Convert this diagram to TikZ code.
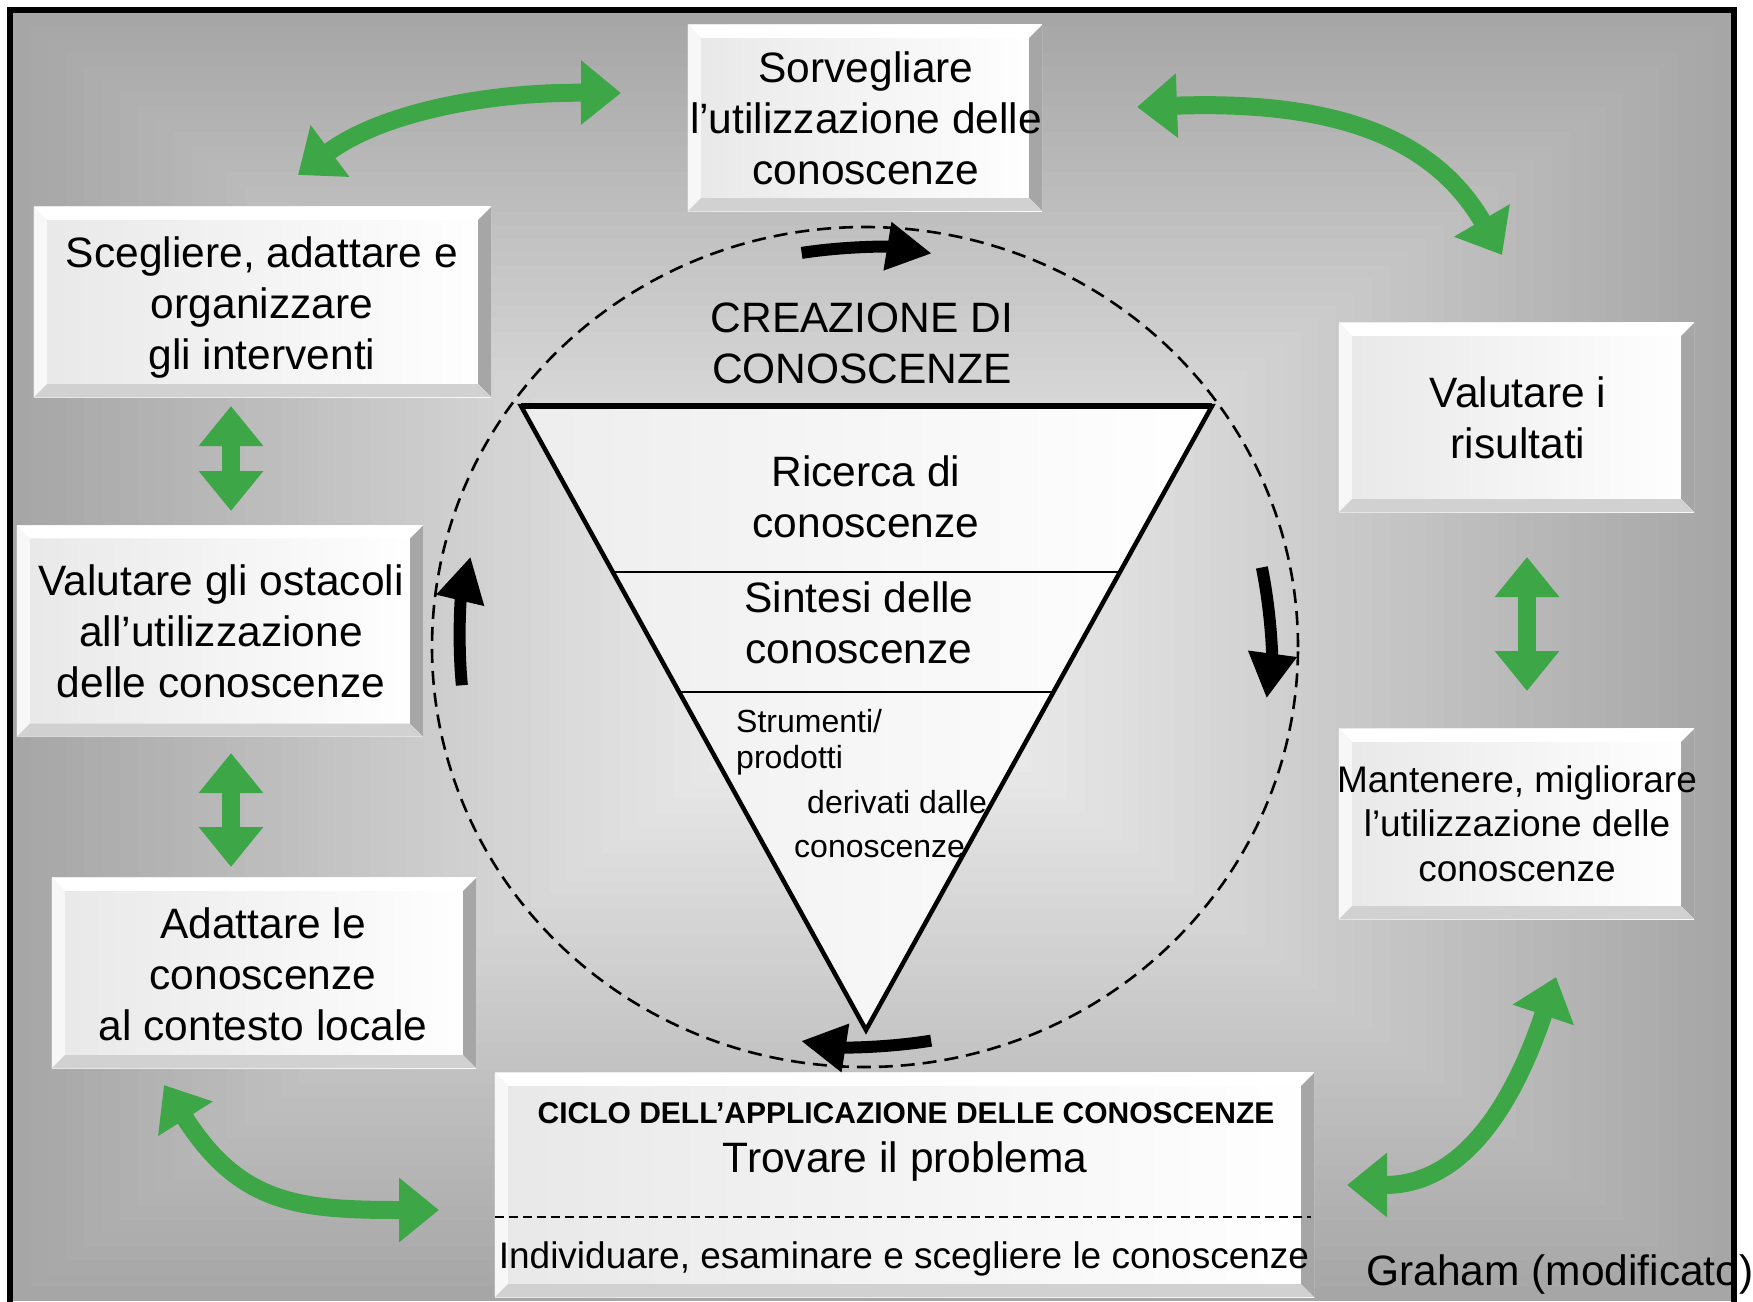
\documentclass[tikz,border=0pt]{standalone}
\usepackage{fontspec}
\setmainfont{Liberation Sans}
\usetikzlibrary{arrows.meta,calc}
\pgfdeclarelayer{bg}
\pgfsetlayers{bg,main}
\definecolor{arrowgreen}{RGB}{61,166,70}
\tikzset{
  boxnode/.style={inner sep=0pt, draw=none},
  bigtext/.style={font=\fontsize{42.5}{51}\selectfont, align=center, inner sep=0pt},
  midtext/.style={font=\fontsize{37}{44.5}\selectfont, align=center, inner sep=0pt},
  smalltext/.style={font=\fontsize{32}{38}\selectfont, inner sep=0pt, anchor=base west},
  garrow/.style={draw=arrowgreen, line width=18pt, {Triangle[length=40pt,width=62pt]}-{Triangle[length=40pt,width=62pt]}},
  barrow/.style={draw=black, line width=12pt, -{Triangle[length=45pt,width=46pt]}},
}
\newcommand\bevelbox[1]{%
\begin{pgfonlayer}{bg}
\fill[left color=black!9, right color=white] (#1.south west) rectangle (#1.north east);
\fill[white] (#1.north west) -- (#1.north east) -- ([shift={(-13pt,-13pt)}]#1.north east) -- ([shift={(13pt,-13pt)}]#1.north west) -- cycle;
\fill[black!3] (#1.north west) -- ([shift={(13pt,-13pt)}]#1.north west) -- ([shift={(13pt,13pt)}]#1.south west) -- (#1.south west) -- cycle;
\fill[black!35] (#1.north east) -- (#1.south east) -- ([shift={(-13pt,13pt)}]#1.south east) -- ([shift={(-13pt,-13pt)}]#1.north east) -- cycle;
\fill[black!18] (#1.south west) -- (#1.south east) -- ([shift={(-13pt,13pt)}]#1.south east) -- ([shift={(13pt,13pt)}]#1.south west) -- cycle;
\end{pgfonlayer}}
\begin{document}
\begin{tikzpicture}[x=1pt,y=-1pt]
\useasboundingbox (0,0) rectangle (1753,1301);
\begin{pgfonlayer}{bg}
\fill[white] (0,0) rectangle (1753,1301);
\foreach \i in {0,...,47}{
  \pgfmathsetmacro\t{\i/48}
  \pgfmathsetmacro\pc{35-32*\t}
  \fill[black!\pc] ({870-857*(1-\t)},{650-637*(1-\t)}) rectangle ({870+861*(1-\t)},{650+651*(1-\t)});
}
\end{pgfonlayer}

% boxes
\node[boxnode, minimum width=354pt, minimum height=186pt] (sorv) at (865,118) {};
\node[boxnode, minimum width=457pt, minimum height=190pt] (sceg) at (262.5,302) {};
\node[boxnode, minimum width=406pt, minimum height=211pt] (osta) at (220,631) {};
\node[boxnode, minimum width=424pt, minimum height=190pt] (adat) at (264,973) {};
\node[boxnode, minimum width=355pt, minimum height=189pt] (valu) at (1516.5,417.5) {};
\node[boxnode, minimum width=355pt, minimum height=190pt] (mant) at (1516.5,824) {};
\node[boxnode, minimum width=819pt, minimum height=224pt] (ciclo) at (904.5,1185) {};
\bevelbox{sorv}\bevelbox{sceg}\bevelbox{osta}\bevelbox{adat}\bevelbox{valu}\bevelbox{mant}\bevelbox{ciclo}

% box texts
\node[bigtext] (sorvt) at (866,123) {\strut Sorvegliare\\ \strut l’utilizzazione delle\\ \strut conoscenze};
\node[bigtext] (scegt) at (262,308) {\strut Scegliere, adattare e\\ \strut organizzare\\ \strut gli interventi};
\node[bigtext] (ostat) at (221,636) {\strut Valutare gli ostacoli\\ \strut all’utilizzazione\\ \strut delle conoscenze};
\node[bigtext] (adatt) at (263,979) {\strut Adattare le\\ \strut conoscenze\\ \strut al contesto locale};
\node[bigtext] (valut) at (1518,423) {\strut Valutare i\\ \strut risultati};
\node[midtext] (mantt) at (1517,828) {\strut Mantenere, migliorare\\ \strut l’utilizzazione delle\\ \strut conoscenze};
\node[font=\bfseries\fontsize{30}{36}\selectfont, inner sep=0pt, anchor=base] (ciclot) at (906,1123) {CICLO DELL’APPLICAZIONE DELLE CONOSCENZE};
\node[bigtext, anchor=base] (trov) at (905,1172) {Trovare il problema};
\node[midtext, anchor=base] (indiv) at (904,1268) {Individuare, esaminare e scegliere le conoscenze};
\draw[line width=1.5pt, dash pattern=on 9pt off 5pt] ([yshift=-32pt]ciclo.west) -- ([xshift=-3pt,yshift=-32pt]ciclo.east);

% dashed circle
\draw[line width=2.6pt, dash pattern=on 14pt off 8pt] (865,647) ellipse [x radius=433pt, y radius=420pt];

% triangle
\coordinate (tl) at (521,406);
\coordinate (tr) at (1212,406);
\coordinate (ap) at (866,1030);
\draw[line width=4.5pt, left color=black!7, right color=white] (tl) -- (tr) -- (ap) -- cycle;
\draw[line width=6pt] (tl) -- (tr);
\draw[line width=1.8pt] ($(tl)!0.266!(ap)$) -- ($(tr)!0.266!(ap)$);
\draw[line width=1.8pt] ($(tl)!0.458!(ap)$) -- ($(tr)!0.458!(ap)$);

\node[bigtext] (creat) at (862,348) {\strut CREAZIONE DI\\ \strut CONOSCENZE};
\node[bigtext] (ricet) at (866,502) {\strut Ricerca di\\ \strut conoscenze};
\node[bigtext] (sintt) at (859,628) {\strut Sintesi delle\\ \strut conoscenze};
\node[smalltext] (strum) at (736,732) {Strumenti/};
\node[smalltext] (prod) at (736,768) {prodotti};
\node[smalltext] (deriv) at (807,813) {derivati dalle};
\node[smalltext] (conos) at (794,857) {conoscenze};

% black cycle arrows
\coordinate (ctop) at ({865+405*cos(99)},{647-399*sin(99)});
\coordinate (cright) at ({865+405*cos(11.5)},{647-399*sin(11.5)});
\coordinate (cbot) at ({865+405*cos(279.4)},{647-399*sin(279.4)});
\coordinate (cleft) at ({865+405*cos(185.5)},{647-399*sin(185.5)});
\draw[barrow] (ctop) arc[start angle=99, end angle=80.5, x radius=405pt, y radius=399pt];
\draw[barrow] (cright) arc[start angle=11.5, end angle=-7.4, x radius=405pt, y radius=399pt];
\draw[barrow] (cbot) arc[start angle=279.4, end angle=260.9, x radius=405pt, y radius=399pt];
\draw[barrow] (cleft) arc[start angle=185.5, end angle=166.9, x radius=405pt, y radius=399pt];

% green arrows
\coordinate (g1a) at (298,175); \coordinate (g1b) at (621,93);
\coordinate (g2a) at (1137,107); \coordinate (g2b) at (1502,255);
\coordinate (g3a) at (231,406); \coordinate (g3b) at (231,511);
\coordinate (g4a) at (231,753); \coordinate (g4b) at (231,867);
\coordinate (g5a) at (1527,557); \coordinate (g5b) at (1527,691);
\coordinate (g6a) at (164,1085); \coordinate (g6b) at (439,1210);
\coordinate (g7a) at (1347,1185); \coordinate (g7b) at (1556,977);
\draw[garrow] (g1a) .. controls (378,115) and (480,92) .. (g1b);
\draw[garrow] (g2a) .. controls (1340,100) and (1435,140) .. (g2b);
\draw[garrow] (g3a) -- (g3b);
\draw[garrow] (g4a) -- (g4b);
\draw[garrow] (g5a) -- (g5b);
\draw[garrow] (g6a) .. controls (240,1205) and (300,1210) .. (g6b);
\draw[garrow] (g7a) .. controls (1470,1185) and (1518,1090) .. (g7b);

\node[bigtext, anchor=base west] (graham) at (1366,1285) {Graham (modificato)};

% frame
\draw[line width=6pt] (10,1320) -- (10,10) -- (1734,10) -- (1734,1320);
\end{tikzpicture}
\end{document}
